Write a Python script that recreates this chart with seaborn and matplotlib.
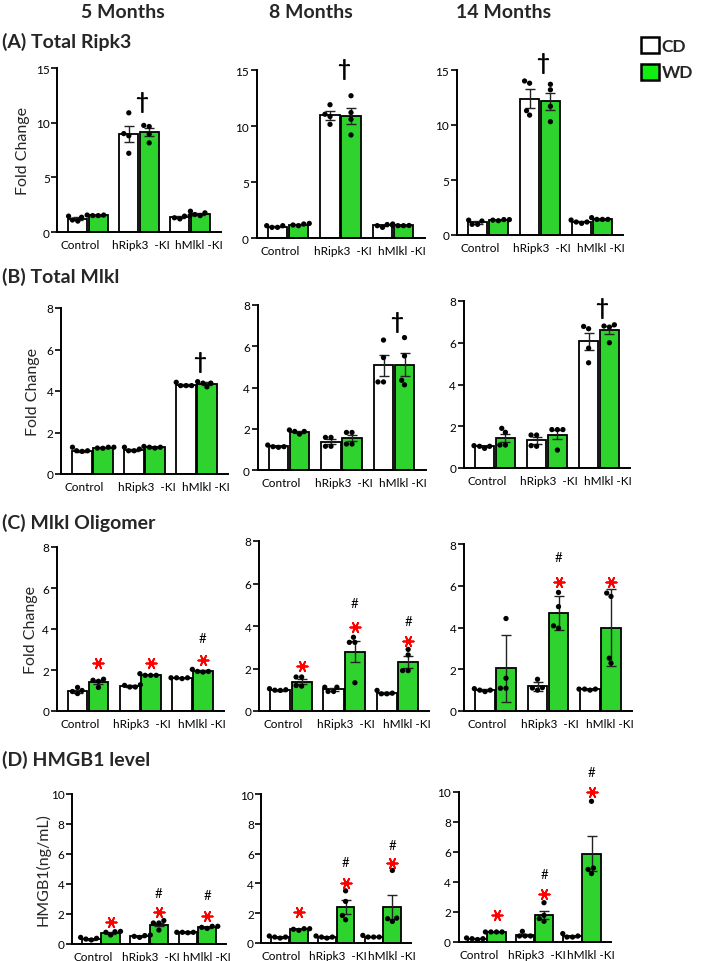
import numpy as np
import pandas as pd
import matplotlib
matplotlib.use("Agg")
import matplotlib.pyplot as plt
import matplotlib.transforms as mtrans
import seaborn as sns
from matplotlib.patches import Patch

nan = np.nan
groups = ["Control", "hRipk3  -KI", "hMlkl -KI"]
diets = ["CD", "WD"]
months = ["5 Months", "8 Months", "14 Months"]
row_titles = ["(A) Total Ripk3", "(B) Total Mlkl", "(C) Mlkl Oligomer", "(D) HMGB1 level"]
ylabels = ["Fold Change", "Fold Change", "Fold Change", "HMGB1(ng/mL)"]

# ---- Row A: Total Ripk3 (per month [5, 8, 14], per group) ----
ripk3_cd_mean = [[1.22, 8.97, 1.37], [1.02, 10.95, 1.12], [1.14, 12.4, 1.2]]
ripk3_wd_mean = [[1.52, 9.15, 1.68], [1.2, 10.9, 1.12], [1.36, 12.15, 1.42]]
ripk3_cd_err = [[0.15, 0.73, 0.08], [0.05, 0.38, 0.07], [0.1, 0.83, 0.06]]
ripk3_wd_err = [[0.03, 0.35, 0.1], [0.04, 0.73, 0.02], [0.03, 0.8, 0.04]]
ripk3_cd_pts = [
    [[1.45, 1.0, 1.35, 1.1], [10.9, 9.0, 8.8, 7.2], [1.5, 1.3, 1.45, 1.2]],
    [[0.95, 1.1, 0.95, 1.1], [11.9, 11.05, 10.85, 10.15], [0.95, 1.25, 1.2, 1.1]],
    [[0.97, 1.35, 0.97, 1.27], [13.8, 14.0, 11.3, 10.9], [1.06, 1.36, 1.18, 1.18]],
]
ripk3_wd_pts = [
    [[1.5, 1.55, 1.5, 1.55], [9.75, 9.65, 8.95, 8.15], [1.9, 1.6, 1.75, 1.5]],
    [[1.1, 1.3, 1.16, 1.25], [12.7, 11.2, 10.6, 9.2], [1.15, 1.1, 1.12, 1.1]],
    [[1.3, 1.4, 1.4, 1.35], [13.7, 13.2, 11.7, 10.3], [1.42, 1.58, 1.42, 1.42]],
]
ripk3_dagger = [11.9, 15.1, 15.7]

# ---- Row B: Total Mlkl ----
mlkl_cd_mean = [[1.12, 1.16, 4.28], [1.14, 1.36, 5.07], [1.03, 1.32, 6.06]]
mlkl_wd_mean = [[1.27, 1.29, 4.36], [1.85, 1.54, 5.1], [1.45, 1.6, 6.6]]
mlkl_cd_err = [[0.04, 0.04, 0.04], [0.03, 0.12, 0.5], [0.03, 0.15, 0.4]]
mlkl_wd_err = [[0.01, 0.02, 0.05], [0.04, 0.15, 0.55], [0.2, 0.22, 0.18]]
mlkl_cd_pts = [
    [[1.12, 1.29, 1.09, 1.12], [1.12, 1.29, 1.12, 1.2], [4.26, 4.42, 4.26, 4.26]],
    [[1.1, 1.21, 1.13, 1.13], [1.58, 1.15, 1.58, 1.15], [6.3, 4.27, 5.45, 4.27]],
    [[0.94, 1.07, 1.04, 1.04], [1.58, 1.04, 1.58, 1.07], [6.67, 5.04, 5.74, 6.78]],
]
mlkl_wd_pts = [
    [[1.24, 1.29, 1.29, 1.25], [1.29, 1.33, 1.29, 1.25], [4.2, 4.45, 4.38, 4.38]],
    [[1.74, 1.94, 1.87, 1.87], [1.82, 1.26, 1.82, 1.26], [4.13, 6.42, 5.53, 4.35]],
    [[1.71, 1.1, 1.9, 1.1], [1.84, 0.86, 1.84, 1.84], [6.86, 6.0, 6.75, 6.8]],
]
mlkl_dagger = [5.4, 7.2, 7.7]

# ---- Row C: Mlkl Oligomer ----
olig_cd_mean = [[0.97, 1.22, 1.61], [0.98, 1.02, 0.84], [1.0, 1.18, 1.04]]
olig_wd_mean = [[1.41, 1.76, 1.95], [1.38, 2.8, 2.32], [2.05, 4.68, 3.99]]
olig_cd_err = [[0.07, 0.03, 0.01], [0.02, 0.06, 0.04], [0.05, 0.22, 0.02]]
olig_wd_err = [[0.09, 0.02, 0.03], [0.12, 0.5, 0.28], [1.6, 0.81, 1.84]]
olig_cd_pts = [
    [[1.15, 0.85, 1.0, 0.95], [1.17, 1.28, 1.17, 1.25], [1.58, 1.62, 1.62, 1.62]],
    [[0.97, 1.05, 1.0, 0.98], [1.12, 0.92, 1.12, 0.92], [0.81, 0.97, 0.81, 0.84]],
    [[0.93, 1.07, 1.0, 1.0], [1.52, 1.12, 1.1, 1.0], [1.0, 1.05, 1.05, 1.05]],
]
olig_wd_pts = [
    [[1.55, 1.15, 1.45, 1.5], [1.82, 1.74, 1.74, 1.74], [2.03, 1.93, 1.93, 1.9]],
    [[1.6, 1.6, 1.17, 1.2], [3.23, 3.47, 3.23, 1.33], [1.9, 2.9, 2.64, 1.9]],
    [[4.43, 1.57, 1.09, 1.09], [5.68, 5.0, 3.97, 4.08], [5.49, 5.65, 2.53, 2.29]],
]
olig_star = [[2.34, 2.34, 2.47], [2.1, 3.94, 3.28], [nan, 6.19, 6.19]]
olig_hash = [[nan, nan, 3.56], [nan, 5.1, 4.25], [nan, 7.36, nan]]

# ---- Row D: HMGB1 level (ng/mL) ----
hmgb_cd_mean = [[0.32, 0.52, 0.77], [0.38, 0.38, 0.43], [0.22, 0.46, 0.38]]
hmgb_wd_mean = [[0.76, 1.3, 1.13], [0.94, 2.42, 2.4], [0.66, 1.82, 5.9]]
hmgb_cd_err = [[0.04, 0.03, 0.01], [0.03, 0.04, 0.03], [0.02, 0.08, 0.05]]
hmgb_wd_err = [[0.06, 0.13, 0.03], [0.03, 0.45, 0.8], [0.01, 0.27, 1.17]]
hmgb_cd_pts = [
    [[0.27, 0.44, 0.33, 0.38], [0.56, 0.6, 0.44, 0.51], [0.78, 0.78, 0.75, 0.78]],
    [[0.33, 0.47, 0.4, 0.4], [0.33, 0.47, 0.4, 0.4], [0.4, 0.51, 0.4, 0.4]],
    [[0.16, 0.27, 0.22, 0.22], [0.71, 0.4, 0.4, 0.4], [0.33, 0.56, 0.4, 0.33]],
]
hmgb_wd_pts = [
    [[0.6, 0.84, 0.78, 0.82], [1.56, 1.4, 0.93, 1.4], [1.04, 1.18, 1.11, 1.18]],
    [[0.85, 0.96, 0.92, 0.96], [3.5, 2.79, 1.56, 1.85], [4.87, 1.45, 1.67, 1.63]],
    [[0.67, 0.67, 0.67, 0.67], [2.62, 1.78, 1.38, 1.56], [9.38, 4.93, 4.84, 4.56]],
]
hmgb_star = [[1.49, 2.15, 1.9], [2.08, 4.04, 5.38], [1.78, 3.22, 10.0]]
hmgb_hash = [[nan, 3.4, 3.27], [nan, 5.42, 6.58], [nan, 4.55, 11.33]]

# ---------------- styling / layout ----------------
sns.set_theme(style="ticks")
plt.rcParams["font.family"] = ["Lato", "DejaVu Sans"]
GREEN = "#12ee12"
W, H = 707, 962
fig = plt.figure(figsize=(W / 100, H / 100), dpi=100)

# (control-group centre px, group spacing px, y of top tick px, y of zero px)
layout = [
    [(88, 51, 69, 233), (288, 52.5, 71, 239), (488, 52, 71, 236)],
    [(92.5, 52, 309, 475), (289, 52.5, 306, 471), (495, 52, 302, 469)],
    [(88, 52.25, 548, 712), (291, 53.25, 542, 712), (495.5, 52.5, 545, 712)],
    [(101, 48.25, 795, 945), (289.5, 46.75, 795, 944), (487, 47.5, 793, 943)],
]
row_ylim = [15, 8, 8, 10]
row_ticks = [[0, 5, 10, 15], [0, 2, 4, 6, 8], [0, 2, 4, 6, 8], [0, 2, 4, 6, 8, 10]]
row_title_y = [42, 277, 523, 760]
ylabel_pos = [(23, 151), (33, 392), (31, 630), (43, 870)]
label_shift_px = [-8, 2, 9]

rows = [
    (ripk3_cd_mean, ripk3_wd_mean, ripk3_cd_err, ripk3_wd_err, ripk3_cd_pts, ripk3_wd_pts),
    (mlkl_cd_mean, mlkl_wd_mean, mlkl_cd_err, mlkl_wd_err, mlkl_cd_pts, mlkl_wd_pts),
    (olig_cd_mean, olig_wd_mean, olig_cd_err, olig_wd_err, olig_cd_pts, olig_wd_pts),
    (hmgb_cd_mean, hmgb_wd_mean, hmgb_cd_err, hmgb_wd_err, hmgb_cd_pts, hmgb_wd_pts),
]
daggers = [(ripk3_dagger, 1), (mlkl_dagger, 2), None, None]
stars = [None, None, (olig_star, olig_hash), (hmgb_star, hmgb_hash)]

HUE_OFF = {"CD": -0.2, "WD": 0.2}


def make_ax(c1, s, top, bot):
    left = c1 - 0.6 * s
    return fig.add_axes([left / W, 1 - bot / H, 3.2 * s / W, (bot - top) / H])


for r in range(4):
    cdm, wdm, cde, wde, cdp, wdp = rows[r]
    for m in range(3):
        ax = make_ax(*layout[r][m])
        bars = pd.DataFrame({
            "group": groups * 2,
            "diet": ["CD"] * 3 + ["WD"] * 3,
            "value": list(cdm[m]) + list(wdm[m]),
        })
        sns.barplot(data=bars, x="group", y="value", hue="diet", order=groups,
                    hue_order=diets, palette={"CD": "white", "WD": GREEN},
                    edgecolor="black", linewidth=1.3, width=0.8, gap=0.05,
                    errorbar=None, legend=False, ax=ax, zorder=2)
        for d, means, errs in (("CD", cdm[m], cde[m]), ("WD", wdm[m], wde[m])):
            xs = np.arange(3) + HUE_OFF[d]
            ax.errorbar(xs, means, yerr=errs, fmt="none", ecolor="#222222",
                        elinewidth=1.0, capsize=3.5, capthick=1.0, zorder=3)
        pts = []
        for d, arr in (("CD", cdp[m]), ("WD", wdp[m])):
            for gi, g in enumerate(groups):
                for v in arr[gi]:
                    pts.append((g, d, v))
        pts = pd.DataFrame(pts, columns=["group", "diet", "value"])
        sns.swarmplot(data=pts, x="group", y="value", hue="diet", order=groups,
                      hue_order=diets, dodge=True, size=3.8,
                      palette={"CD": "black", "WD": "black"}, legend=False,
                      ax=ax, zorder=4, clip_on=False)
        ax.set_xlim(-0.6, 2.6)
        ax.set_ylim(0, row_ylim[r])
        ax.set_yticks(row_ticks[r])
        ax.set_xlabel("")
        ax.set_ylabel("")
        for sp in ("top", "right"):
            ax.spines[sp].set_visible(False)
        for sp in ("left", "bottom"):
            ax.spines[sp].set_linewidth(1.4)
            ax.spines[sp].set_color("black")
        ax.tick_params(axis="y", length=4, width=1.2, labelsize=8.5, pad=1.5,
                       colors="black")
        ax.tick_params(axis="x", length=0, labelsize=8.5, pad=5, colors="black")
        for lab, dx in zip(ax.get_xticklabels(), label_shift_px):
            lab.set_transform(lab.get_transform() +
                              mtrans.ScaledTranslation(dx / 100, 0, fig.dpi_scale_trans))

        if daggers[r] is not None:
            vals, gi = daggers[r]
            ax.text(gi + 0.05, vals[m], "\u2020", ha="center", va="center",
                    fontsize=16, fontweight="bold", color="black", clip_on=False)
        if stars[r] is not None:
            sv, hv = stars[r]
            for gi in range(3):
                if not np.isnan(sv[m][gi]):
                    ax.scatter([gi + 0.2], [sv[m][gi]], marker=(6, 2, 90), s=55,
                               color="red", linewidths=1.3, zorder=5, clip_on=False)
                if not np.isnan(hv[m][gi]):
                    ax.text(gi + 0.2, hv[m][gi], "#", ha="center", va="center",
                            fontsize=9.5, color="black", clip_on=False)

    fig.text(2 / W, 1 - row_title_y[r] / H, row_titles[r], ha="left", va="center",
             fontsize=14, fontweight="bold")
    fig.text(ylabel_pos[r][0] / W, 1 - ylabel_pos[r][1] / H, ylabels[r],
             rotation=90, ha="center", va="center", fontsize=11.5)

for x, t in zip([123, 311, 504], months):
    fig.text(x / W, 1 - 12 / H, t, ha="center", va="center", fontsize=14,
             fontweight="bold")

handles = [Patch(facecolor="white", edgecolor="black", linewidth=1.8, label="CD"),
           Patch(facecolor=GREEN, edgecolor="black", linewidth=1.8, label="WD")]
fig.legend(handles=handles, loc="upper left", bbox_to_anchor=(641 / W, 1 - 38 / H),
           frameon=False, prop=dict(weight="bold", size=12.5), handlelength=1.05,
           handleheight=1.05, handletextpad=0.15, labelspacing=0.55, borderpad=0,
           borderaxespad=0)

fig.savefig("out.png", dpi=100)
